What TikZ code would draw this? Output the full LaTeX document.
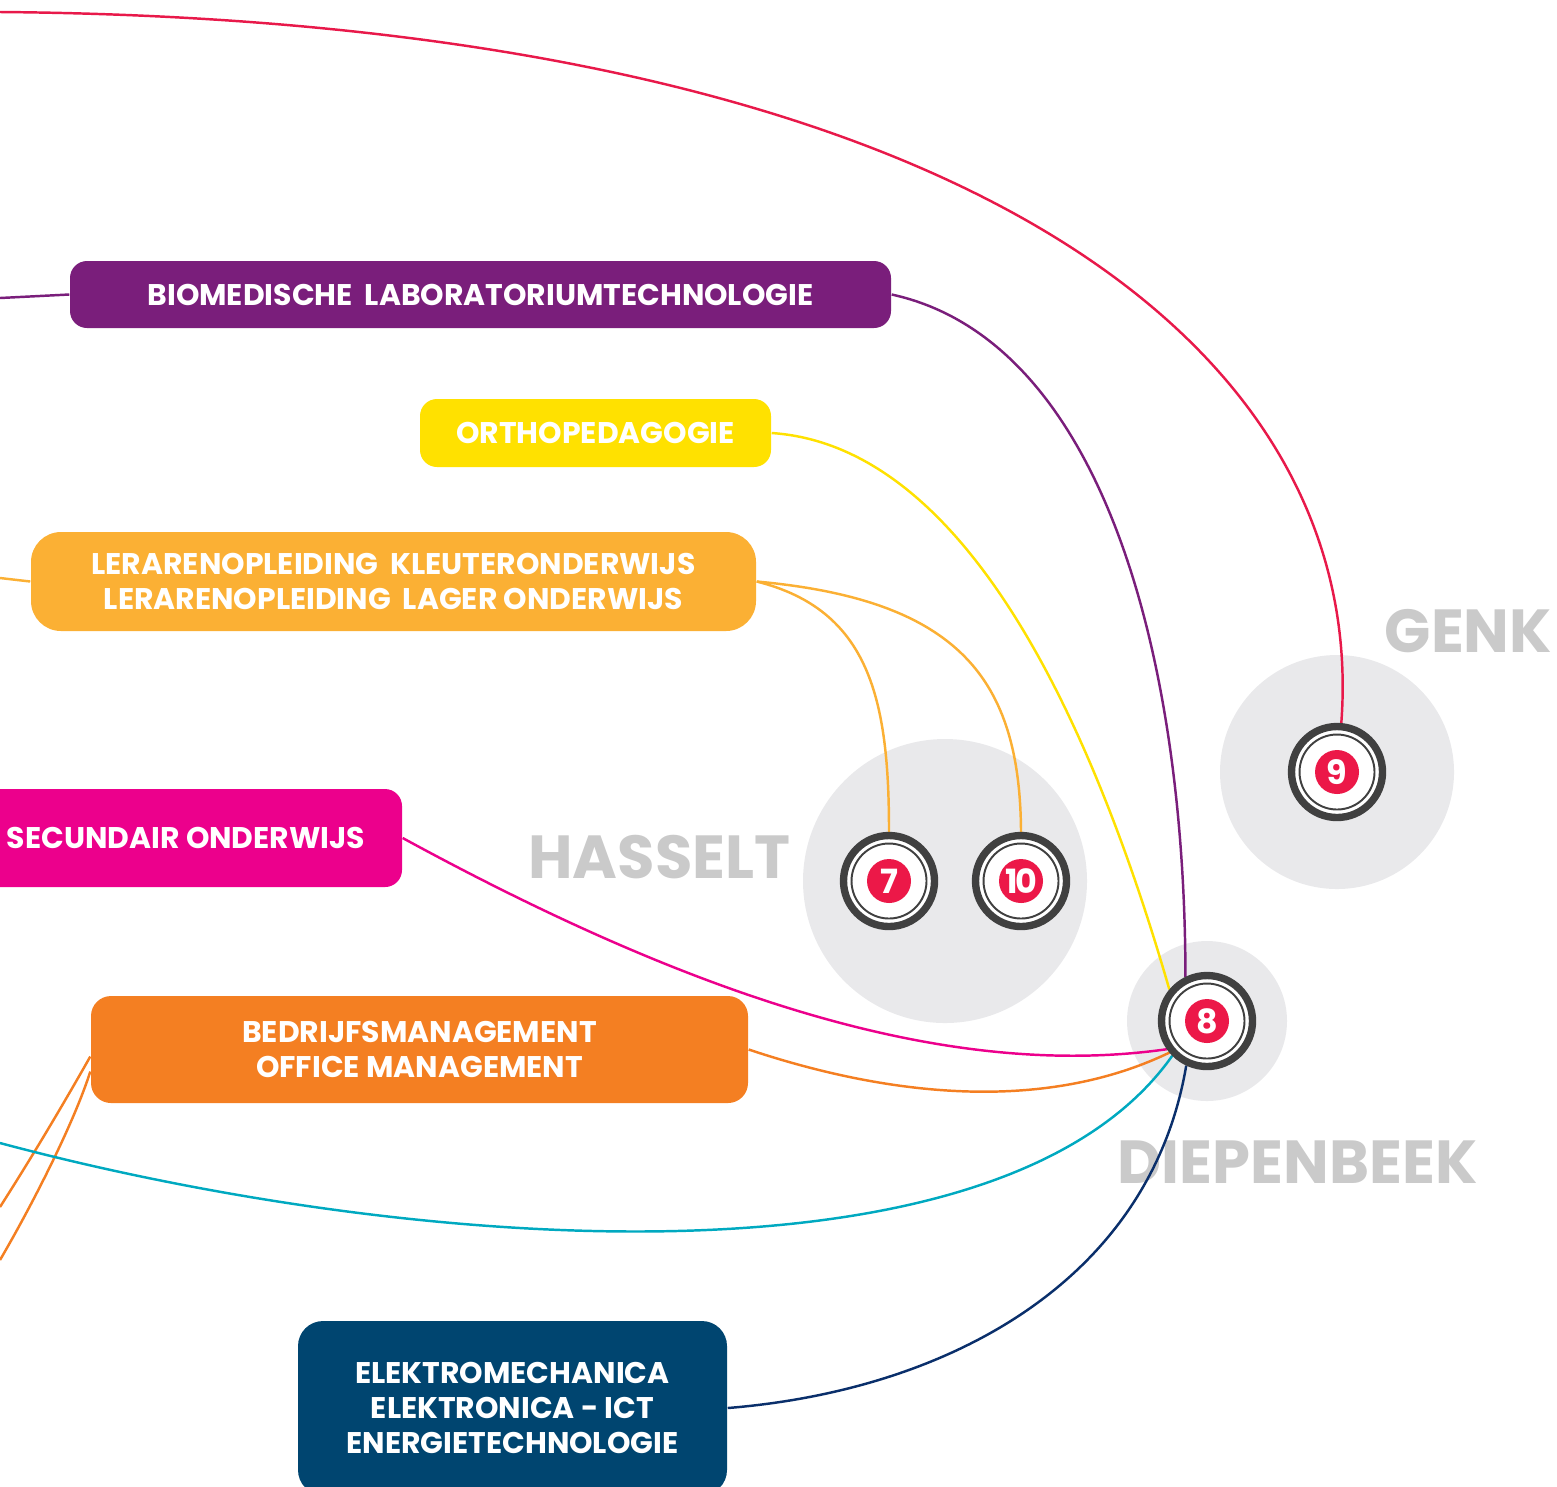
\documentclass[tikz,border=0pt]{standalone}
\usepackage{fontspec}
\setmainfont{Poppins}
\usetikzlibrary{backgrounds}

\definecolor{biopurple}{HTML}{7A1E7B}
\definecolor{orthoyellow}{HTML}{FFE100}
\definecolor{lerarorange}{HTML}{FBB034}
\definecolor{secmagenta}{HTML}{EC008C}
\definecolor{officeorange}{HTML}{F47F22}
\definecolor{elekblue}{HTML}{004570}
\definecolor{eleknavy}{HTML}{0A2F6B}
\definecolor{genkred}{HTML}{E8194A}
\definecolor{haltered}{HTML}{EC1848}
\definecolor{cyanline}{HTML}{00A9C0}
\definecolor{ringgray}{HTML}{404040}
\definecolor{zonegray}{HTML}{E9E9EB}
\definecolor{labelgray}{HTML}{CACACA}

\begin{document}
\begin{tikzpicture}[
  opleiding/.style={rectangle, rounded corners=0.17cm, text=white, align=center, inner sep=0pt,
    font=\fontsize{8.5}{10}\selectfont\bfseries},
  halte/.style={circle, draw=ringgray, line width=2.1pt, fill=white, minimum size=0.91cm, inner sep=0pt,
    text=white, font=\fontsize{9.5}{9.5}\selectfont\bfseries,
    path picture={\draw[ringgray, line width=0.55pt] (path picture bounding box.center) circle (0.375cm);
                  \fill[haltered] (path picture bounding box.center) circle (0.22cm);}},
  stad/.style={text=labelgray, font=\fontsize{17.3}{17.3}\selectfont\bfseries, inner sep=0pt},
  lijn/.style={line width=0.7pt}
]
\useasboundingbox (0,0) rectangle (15.57,-14.86);

\node [opleiding, fill=biopurple, minimum width=8.21cm, minimum height=0.67cm] (bio) at (4.805,-2.945) {BIOMEDISCHE\hspace{0.4em}LABORATORIUMTECHNOLOGIE};
\node [opleiding, fill=orthoyellow, minimum width=3.51cm, minimum height=0.68cm] (ortho) at (5.955,-4.33) {ORTHOPEDAGOGIE};
\node [opleiding, fill=lerarorange, minimum width=7.25cm, minimum height=0.99cm, rounded corners=0.3cm] (lerar) at (3.935,-5.815) {LERARENOPLEIDING\hspace{0.4em}KLEUTERONDERWIJS\\LERARENOPLEIDING\hspace{0.4em}LAGER ONDERWIJS};
\node [opleiding, fill=secmagenta, minimum width=4.32cm, minimum height=0.98cm] (secund) at (1.86,-8.38) {SECUNDAIR ONDERWIJS};
\node [opleiding, fill=officeorange, minimum width=6.57cm, minimum height=1.07cm, rounded corners=0.2cm] (office) at (4.195,-10.495) {BEDRIJFSMANAGEMENT\\OFFICE MANAGEMENT};
\node [opleiding, fill=elekblue, minimum width=4.29cm, minimum height=1.74cm, rounded corners=0.25cm] (elek) at (5.125,-14.08) {ELEKTROMECHANICA\\ELEKTRONICA - ICT\\ENERGIETECHNOLOGIE};

\node [halte] (n7) at (8.89,-8.81) {7};
\node [halte] (n10) at (10.21,-8.81) {1\kern-0.08em0};
\node [halte] (n9) at (13.37,-7.72) {9};
\node [halte] (n8) at (12.07,-10.21) {8};

\coordinate (redstart) at (0,-0.12);
\coordinate (bioleft) at (0,-2.98);
\coordinate (lerarleft) at (0,-5.78);
\coordinate (cyanleft) at (0,-11.43);
\coordinate (offA) at (0,-12.07);
\coordinate (offB) at (0,-12.60);

\begin{scope}[on background layer]
\fill [zonegray] (9.45,-8.81) circle (1.42);
\fill [zonegray] (13.37,-7.72) circle (1.17);
\fill [zonegray] (12.07,-10.21) circle (0.8);

\node [stad, anchor=base east] (hasselt) at (7.91,-8.78) {HASSELT};
\node [stad, anchor=base west] (genk) at (13.84,-6.52) {GENK};
\node [stad, anchor=base west] (diepenbeek) at (11.17,-11.83) {DIEPENBEEK};

\draw [lijn, genkred] (redstart) .. controls (9.5,-0.2) and (13.7,-3.4) .. (n9.85);
\draw [lijn, biopurple] (bioleft) -- (bio.west);
\draw [lijn, biopurple] (bio.east) .. controls (11,-3.4) and (11.85,-6.5) .. (n8.116);
\draw [lijn, orthoyellow] (ortho.east) .. controls (9.5,-4.45) and (10.8,-6.8) .. (n8.140);
\draw [lijn, lerarorange] (lerarleft) -- (lerar.west);
\draw [lijn, lerarorange] (lerar.east) .. controls (8.7,-6.1) and (8.89,-7) .. (n7.north);
\draw [lijn, lerarorange] (lerar.east) .. controls (9.6,-6.0) and (10.2,-6.8) .. (n10.north);
\draw [lijn, secmagenta] (secund.east) .. controls (7,-10) and (9.5,-10.8) .. (n8.215);
\draw [lijn, officeorange] (office.east) .. controls (9,-11.0) and (10.5,-11.1) .. (n8.220);
\draw [lijn, officeorange] ([yshift=-0.07cm]office.west) .. controls (0.6,-11.1) and (0.3,-11.6) .. (offA);
\draw [lijn, officeorange] ([yshift=-0.22cm]office.west) .. controls (0.75,-11.2) and (0.35,-12.0) .. (offB);
\draw [lijn, cyanline] (cyanleft) .. controls (4,-12.5) and (10,-13) .. (n8.225);
\draw [lijn, eleknavy] (elek.east) .. controls (9.5,-13.9) and (11.5,-12.8) .. (n8.245);
\end{scope}
\end{tikzpicture}
\end{document}
